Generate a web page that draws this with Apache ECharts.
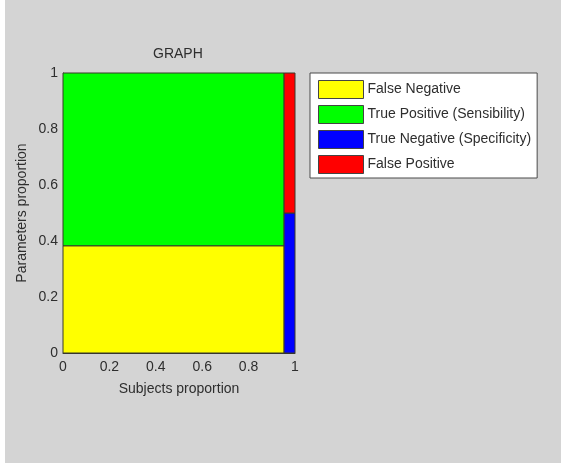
<!DOCTYPE html>
<html>
<head>
<meta charset="utf-8">
<script src="https://cdn.jsdelivr.net/npm/echarts@6/dist/echarts.min.js"></script>
<style>
  html, body { margin: 0; padding: 0; background: #ffffff; }
  #chart { position: absolute; left: 5px; top: 0; width: 556px; height: 463px; background: #d4d4d4; }
</style>
</head>
<body>
<div id="chart"></div>
<script>
// ---- data ----
const seriesNames = ['False Negative', 'True Positive (Sensibility)', 'True Negative (Specificity)', 'False Positive'];
const xStart = [0, 0, 0.953, 0.953];
const xEnd   = [0.953, 0.953, 1, 1];
const yStart = [0, 0.383, 0, 0.5];
const yEnd   = [0.383, 1, 0.5, 1];
const tickValues = [0, 0.2, 0.4, 0.6, 0.8, 1];
const tickLabels = ['0', '0.2', '0.4', '0.6', '0.8', '1'];
const titleText = 'GRAPH';
const xName = 'Subjects proportion';
const yName = 'Parameters proportion';

// ---- styles ----
const palette = ['#ffff00', '#00ff00', '#0000ff', '#ff0000'];
const font = 'Liberation Sans, Arial, sans-serif';
const textColor = '#2e2e2e';

const chart = echarts.init(document.getElementById('chart'), null, { renderer: 'canvas' });

function fmt(v) {
  const i = tickValues.findIndex(t => Math.abs(t - v) < 1e-9);
  return i >= 0 ? tickLabels[i] : '';
}

function renderItem(params, api) {
  const p0 = api.coord([api.value(0), api.value(3)]);
  const p1 = api.coord([api.value(1), api.value(2)]);
  return {
    type: 'rect',
    shape: { x: p0[0], y: p0[1], width: p1[0] - p0[0], height: p1[1] - p0[1] },
    style: { fill: api.visual('color'), stroke: '#3a3a2a', lineWidth: 1 }
  };
}

const series = seriesNames.map((name, i) => ({
  type: 'custom',
  name: name,
  renderItem: renderItem,
  itemStyle: { color: palette[i], borderColor: '#444', borderWidth: 1 },
  encode: { x: [0, 1], y: [2, 3] },
  data: [[xStart[i], xEnd[i], yStart[i], yEnd[i]]],
  animation: false
}));

const axisCommon = {
  type: 'value',
  min: 0,
  max: 1,
  interval: 0.2,
  nameLocation: 'middle',
  nameTextStyle: { color: textColor, fontSize: 14, fontFamily: font },
  axisLine: { show: true, lineStyle: { color: '#333', width: 1 } },
  axisTick: { show: false },
  splitLine: { show: false },
  axisLabel: { color: textColor, fontSize: 14, fontFamily: font, formatter: fmt }
};

chart.setOption({
  animation: false,
  backgroundColor: '#d4d4d4',
  title: {
    text: titleText,
    left: 148,
    top: 47,
    padding: 0,
    textStyle: { color: textColor, fontSize: 14, fontWeight: 'normal', fontFamily: font }
  },
  grid: { left: 58, right: 266, top: 73, bottom: 110, containLabel: false },
  xAxis: Object.assign({}, axisCommon, {
    name: xName,
    nameGap: 29,
    axisLabel: Object.assign({}, axisCommon.axisLabel, { margin: 7 })
  }),
  yAxis: Object.assign({}, axisCommon, {
    name: yName,
    nameGap: 34,
    axisLabel: Object.assign({}, axisCommon.axisLabel, { margin: 5 })
  }),
  legend: {
    orient: 'vertical',
    left: 305,
    top: 73,
    padding: [7, 6, 4, 8],
    itemWidth: 45,
    itemHeight: 18,
    itemGap: 6,
    icon: 'rect',
    backgroundColor: '#ffffff',
    borderColor: '#4a4a4a',
    borderWidth: 1,
    itemStyle: { borderColor: '#444', borderWidth: 1 },
    textStyle: { color: textColor, fontSize: 14, fontFamily: font, padding: [0, 0, 0, -1] },
    data: seriesNames,
    selectedMode: false
  },
  series: series
});
</script>
</body>
</html>
